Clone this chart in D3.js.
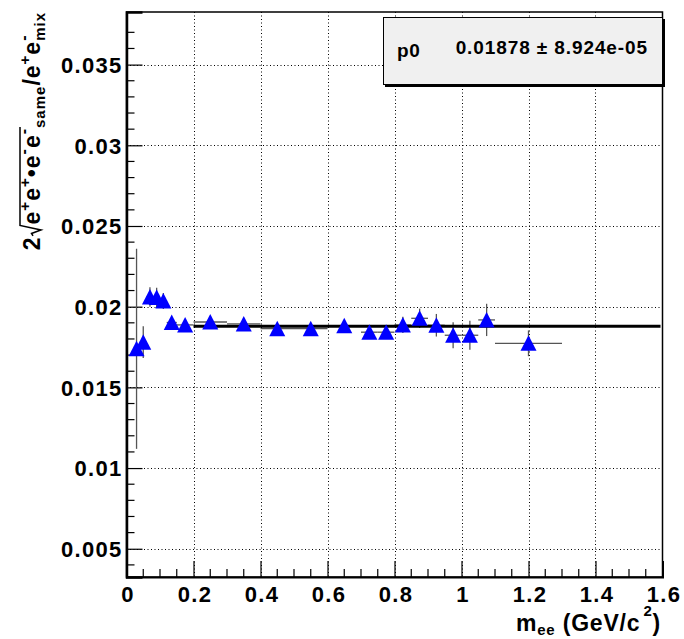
<!DOCTYPE html>
<html>
<head>
<meta charset="utf-8">
<script src="https://cdn.jsdelivr.net/npm/d3@7"></script>
<style>
  html, body { margin: 0; padding: 0; background: #fff; }
  svg { display: block; font-family: "Liberation Sans", Arial, Helvetica, sans-serif; font-weight: bold; }
</style>
</head>
<body>
<svg id="chart" width="684" height="639"></svg>
<script>
// ---- data ----
const xVals = [0.03, 0.05, 0.07, 0.09, 0.11, 0.135, 0.175, 0.25, 0.35, 0.45, 0.55, 0.65,
               0.725, 0.775, 0.825, 0.875, 0.925, 0.975, 1.025, 1.075, 1.2];
const xErrs = [0.01, 0.01, 0.01, 0.01, 0.01, 0.015, 0.025, 0.05, 0.05, 0.05, 0.05, 0.05,
               0.025, 0.025, 0.025, 0.025, 0.025, 0.025, 0.025, 0.025, 0.1];
const yVals = [0.01739, 0.01780, 0.02060, 0.02057, 0.02035, 0.01902, 0.01887, 0.01905, 0.01893,
               0.01864, 0.01864, 0.01882, 0.01842, 0.01842, 0.01887, 0.01928, 0.01885, 0.01823,
               0.01823, 0.01918, 0.01773];
const yErrs = [0.0062, 0.00098, 0.0006, 0.0006, 0.0005, 0.0003, 0.0003, 0.0002, 0.0002, 0.0002,
               0.0002, 0.0002, 0.0004, 0.0004, 0.0005, 0.0006, 0.0007, 0.0008, 0.0009, 0.0010, 0.0008];
const fitValue = 0.01878;
const fitRange = [0.2, 1.6];
const xTicks = [0, 0.2, 0.4, 0.6, 0.8, 1, 1.2, 1.4, 1.6];
const yTicks = [0.005, 0.01, 0.015, 0.02, 0.025, 0.03, 0.035];
const statName = "p0";
const statValue = "0.01878";
const statError = "8.924e-05";

// ---- layout ----
const svg = d3.select("#chart");
const L = 126.5, R = 662.5, T = 12, B = 577;
const x = d3.scaleLinear().domain([0, 1.6]).range([L, R]);
const y = d3.scaleLinear().domain([0.00325, 0.03826]).range([B, T]);
const FONT = "Liberation Sans, Arial, sans-serif";

// grid
const grid = svg.append("g").attr("stroke", "#000").attr("stroke-width", 1).attr("stroke-dasharray", "1,2.5");
grid.selectAll(".gx").data(xTicks.filter(d => d > 0 && d < 1.6)).join("line")
  .attr("x1", d => Math.round(x(d)) + 0.5).attr("x2", d => Math.round(x(d)) + 0.5).attr("y1", T).attr("y2", B);
grid.selectAll(".gy").data(yTicks).join("line")
  .attr("y1", d => Math.round(y(d)) + 0.5).attr("y2", d => Math.round(y(d)) + 0.5).attr("x1", L).attr("x2", R);

// frame
svg.append("rect").attr("x", L).attr("y", T).attr("width", R - L).attr("height", B - T)
  .attr("fill", "none").attr("stroke", "#000").attr("stroke-width", 1.5);

// axes
const xAxis = d3.axisBottom(x).tickValues(xTicks).tickSize(-16).tickPadding(0)
  .tickFormat(d => d3.format("~g")(d));
const gx = svg.append("g").attr("transform", `translate(0,${B})`).call(xAxis);
gx.select(".domain").attr("stroke", "#000").attr("stroke-width", 2);
gx.selectAll(".tick line").attr("stroke", "#000").attr("stroke-width", 1.2);
gx.selectAll(".tick text").attr("font-size", 22).attr("font-weight", "bold").attr("font-family", FONT)
  .attr("letter-spacing", 1.3).attr("fill", "#000").attr("dy", null).attr("y", 25).attr("dx", 1);
const xMinor = d3.range(0.05, 1.6, 0.05).filter(v => Math.abs(v / 0.2 - Math.round(v / 0.2)) > 1e-6);
svg.append("g").selectAll("line").data(xMinor).join("line")
  .attr("x1", d => x(d)).attr("x2", d => x(d)).attr("y1", B).attr("y2", B - 8)
  .attr("stroke", "#000").attr("stroke-width", 1.2);

const yAxis = d3.axisLeft(y).tickValues(yTicks).tickSize(-16).tickPadding(8)
  .tickFormat(d => d3.format("~g")(d));
const gy = svg.append("g").attr("transform", `translate(${L},0)`).call(yAxis);
gy.select(".domain").attr("stroke", "#000").attr("stroke-width", 2.5);
gy.selectAll(".tick line").attr("stroke", "#000").attr("stroke-width", 1.2);
gy.selectAll(".tick text").attr("font-size", 22).attr("font-weight", "bold").attr("font-family", FONT)
  .attr("letter-spacing", 1.3).attr("fill", "#000").attr("x", -4).attr("dy", "0.36em");
const yMinor = d3.range(0.004, 0.0378, 0.001).filter(v => Math.abs(v / 0.005 - Math.round(v / 0.005)) > 1e-6);
svg.append("g").selectAll("line").data(yMinor).join("line")
  .attr("y1", d => y(d)).attr("y2", d => y(d)).attr("x1", L).attr("x2", L + 8)
  .attr("stroke", "#000").attr("stroke-width", 1.2);

// data
const pts = xVals.map((v, i) => ({ x: v, ex: xErrs[i], y: yVals[i], ey: yErrs[i] }));
const eb = svg.append("g").attr("stroke", "#555").attr("stroke-width", 1.3);
eb.selectAll(".ex").data(pts).join("line")
  .attr("x1", d => x(d.x - d.ex)).attr("x2", d => x(d.x + d.ex)).attr("y1", d => y(d.y)).attr("y2", d => y(d.y));
eb.selectAll(".ey").data(pts).join("line")
  .attr("x1", d => x(d.x)).attr("x2", d => x(d.x)).attr("y1", d => y(d.y - d.ey)).attr("y2", d => y(d.y + d.ey));

// fit line
svg.append("line").attr("x1", x(fitRange[0])).attr("x2", x(fitRange[1]) - 2)
  .attr("y1", y(fitValue)).attr("y2", y(fitValue)).attr("stroke", "#000").attr("stroke-width", 3);

// markers (triangle up)
svg.append("g").selectAll("path").data(pts).join("path")
  .attr("d", d => { const cx = x(d.x), cy = y(d.y); return `M${cx},${cy - 8}L${cx + 8},${cy + 7.5}L${cx - 8},${cy + 7.5}Z`; })
  .attr("fill", "#0000ff");

// stats box
const sb = svg.append("g");
sb.append("rect").attr("x", 385).attr("y", 19).attr("width", 280).attr("height", 68).attr("fill", "#000");
sb.append("rect").attr("x", 383.5).attr("y", 17.5).attr("width", 279).attr("height", 67).attr("fill", "#f0f0f0").attr("stroke", "#000").attr("stroke-width", 1);
sb.append("text").attr("x", 397).attr("y", 57).attr("font-size", 19).attr("letter-spacing", 0.6).text(statName);
sb.append("text").attr("x", 648).attr("y", 54).attr("text-anchor", "end").attr("font-size", 19).attr("letter-spacing", 0.9)
  .text(`${statValue} \u00B1 ${statError}`);

// x title
const xt = svg.append("text").attr("x", 661).attr("y", 631).attr("text-anchor", "end").attr("font-size", 23).attr("letter-spacing", 0.8);
xt.append("tspan").text("m");
xt.append("tspan").attr("font-size", 15).attr("dy", 4).text("ee");
xt.append("tspan").attr("dy", -4).text(" (GeV/c");
xt.append("tspan").attr("font-size", 15).attr("dy", -15).attr("dx", 3).text("2");
xt.append("tspan").attr("dy", 15).text(")");

// y title
const yl = svg.append("g");
let cx = 0;
function piece(str, size, dy) {
  const t = yl.append("text").attr("x", cx).attr("y", dy).attr("font-size", size).attr("letter-spacing", 1).text(str);
  const w = t.node().getComputedTextLength();
  cx += w;
  return w;
}
piece("2", 23, 0);
const radStart = cx;
cx += 12;
piece("e", 23, 0); piece("+", 15, -10); piece("e", 23, 0); piece("+", 15, -10);
piece("\u2022", 23, 0);
piece("e", 23, 0); piece("-", 16, -11); piece("e", 23, 0); piece("-", 16, -11);
const radEnd = cx + 1;
yl.append("path").attr("d", `M${radStart + 0.5},-7 L${radStart + 3},-8.5 L${radStart + 6.5},1 L${radStart + 11},-20 L${radEnd},-20`)
  .attr("fill", "none").attr("stroke", "#000").attr("stroke-width", 1.5);
piece("same", 15, 5);
piece("/e", 23, 0); piece("+", 15, -10); piece("e", 23, 0);
const stackX = cx;
piece("-", 16, -11);
cx = stackX;
piece("mix", 15, 5);
yl.attr("transform", `translate(40,${T + cx}) rotate(-90)`);
</script>
</body>
</html>
